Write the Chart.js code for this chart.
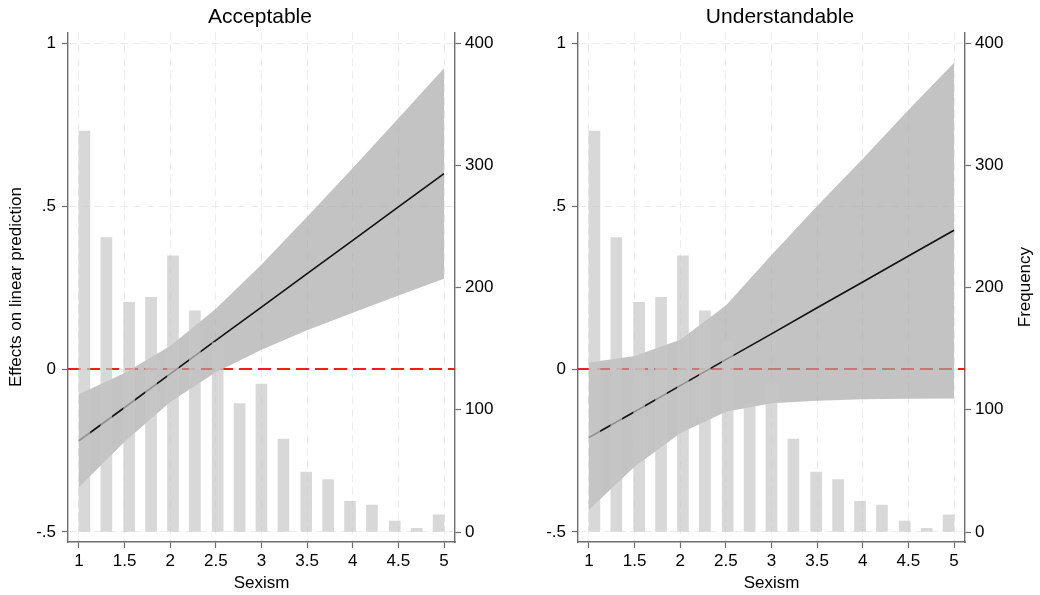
<!DOCTYPE html>
<html>
<head>
<meta charset="utf-8">
<script src="https://cdn.jsdelivr.net/npm/chart.js@4.4.1/dist/chart.umd.min.js"></script>
<style>
  html, body { margin: 0; padding: 0; background: #fff; }
  .row { display: flex; width: 1040px; height: 595px; }
</style>
</head>
<body>
<div class="row">
  <canvas id="acceptable" width="520" height="595"></canvas>
  <canvas id="understandable" width="520" height="595"></canvas>
</div>
<script>
// margins evaluated at these Sexism values
const sexismAt = [1, 1.5, 2, 2.5, 3, 3.5, 4, 4.5, 5];

// Acceptable: effect on linear prediction with 95% CI
const accFit   = [-0.22, -0.118, -0.015, 0.088, 0.19, 0.293, 0.395, 0.498, 0.60];
const accUpper = [-0.077, -0.012, 0.071, 0.185, 0.321, 0.467, 0.617, 0.770, 0.923];
const accLower = [-0.363, -0.223, -0.101, -0.010, 0.059, 0.119, 0.173, 0.226, 0.277];

// Understandable: effect on linear prediction with 95% CI
const undFit   = [-0.21, -0.131, -0.051, 0.029, 0.108, 0.188, 0.267, 0.347, 0.426];
const undUpper = [0.02, 0.04, 0.09, 0.195, 0.35, 0.50, 0.645, 0.795, 0.94];
const undLower = [-0.432, -0.300, -0.197, -0.131, -0.105, -0.097, -0.093, -0.091, -0.090];

// histogram of Sexism, same sample in both panels
const binCenters = [1.06, 1.30, 1.55, 1.79, 2.03, 2.27, 2.52, 2.76, 3.00, 3.24, 3.49, 3.73, 3.97, 4.21, 4.46, 4.70, 4.94];
const frequency  = [328, 241, 188, 192, 226, 181, 155, 105, 121, 76, 49, 43, 25, 22, 9, 3, 14];

const xTicks = [1, 1.5, 2, 2.5, 3, 3.5, 4, 4.5, 5];
const effectTicks = [-0.5, 0, 0.5, 1];
const freqTicks = [0, 100, 200, 300, 400];

const X_MIN = 0.88, X_MAX = 5.12;

Chart.defaults.font.family = '"Liberation Sans", Arial, Helvetica, sans-serif';
Chart.defaults.font.size = 17;
Chart.defaults.color = '#000';

const AXIS = '#6e6e6e';
const GRID = '#ececec';

const pts = (xs, ys) => xs.map((x, i) => ({ x: x, y: ys[i] }));
const fixTicks = list => scale => { scale.ticks = list.map(v => ({ value: v })); };
// stata-style labels: .5, -.5
const stataNum = v => String(v).replace('0.', '.');

function makePanel(id, title, fit, upper, lower, side) {
  const plugins = [];
  if (side.freqTitle) {
    plugins.push({
      id: 'freqTitle',
      afterDraw(chart) {
        const { ctx, chartArea } = chart;
        const s = chart.scales.freq;
        ctx.save();
        ctx.translate(s.right - 15, (chartArea.top + chartArea.bottom) / 2);
        ctx.rotate(-Math.PI / 2);
        ctx.font = '17px "Liberation Sans", Arial, sans-serif';
        ctx.fillStyle = '#000';
        ctx.textAlign = 'center';
        ctx.textBaseline = 'middle';
        ctx.fillText('Frequency', 0, 0);
        ctx.restore();
      }
    });
  }

  return new Chart(document.getElementById(id), {
    type: 'line',
    data: {
      datasets: [
        {
          type: 'bar',
          data: pts(binCenters, frequency),
          yAxisID: 'freq',
          backgroundColor: 'rgba(200,200,200,0.7)',
          borderWidth: 0,
          barThickness: 11,
          order: 0
        },
        {
          data: pts(sexismAt, fit),
          yAxisID: 'y',
          borderColor: '#111',
          borderWidth: 1.6,
          pointRadius: 0,
          tension: 0,
          order: 1
        },
        {
          data: pts(sexismAt, upper),
          yAxisID: 'y',
          borderWidth: 0,
          pointRadius: 0,
          tension: 0,
          fill: '+1',
          backgroundColor: 'rgba(166,166,166,0.68)',
          order: 2
        },
        {
          data: pts(sexismAt, lower),
          yAxisID: 'y',
          borderWidth: 0,
          pointRadius: 0,
          tension: 0,
          order: 3
        },
        {
          // reference line at zero
          data: [{ x: X_MIN, y: 0 }, { x: X_MAX, y: 0 }],
          yAxisID: 'y',
          borderColor: '#ff1a1a',
          borderWidth: 2,
          borderDash: [13, 6],
          pointRadius: 0,
          order: 4
        }
      ]
    },
    options: {
      responsive: false,
      animation: false,
      layout: { padding: 0 },
      plugins: {
        legend: { display: false },
        tooltip: { enabled: false },
        title: {
          display: true,
          text: title,
          font: { size: 21, weight: 'normal' },
          color: '#000',
          padding: { top: 5, bottom: 2 }
        }
      },
      scales: {
        x: {
          type: 'linear',
          min: X_MIN,
          max: X_MAX,
          offset: false,
          afterBuildTicks: fixTicks(xTicks),
          afterFit: s => { s.height = 53; },
          ticks: { padding: 3, maxRotation: 0, callback: v => String(v) },
          grid: { color: GRID, offset: false, tickColor: AXIS, tickLength: 6, tickWidth: 1.2 },
          border: { color: AXIS, width: 1.4, dash: [8, 5] },
          title: { display: true, text: 'Sexism', padding: { top: 0, bottom: 1 } }
        },
        y: {
          type: 'linear',
          position: 'left',
          min: -0.5307,
          max: 1.0337,
          afterBuildTicks: fixTicks(effectTicks),
          afterFit: s => { s.width = side.yWidth; },
          ticks: { padding: 6, callback: stataNum },
          grid: { color: GRID, tickColor: AXIS, tickLength: 6, tickWidth: 1.2 },
          border: { color: AXIS, width: 1.4, dash: [8, 5] },
          title: {
            display: side.yTitle,
            text: 'Effects on linear prediction',
            padding: { top: 6, bottom: 0 }
          }
        },
        freq: {
          type: 'linear',
          position: 'right',
          min: -8.18,
          max: 409,
          afterBuildTicks: fixTicks(freqTicks),
          afterFit: s => { s.width = side.freqWidth; },
          ticks: { padding: 4 },
          grid: { drawOnChartArea: false, tickColor: AXIS, tickLength: 6, tickWidth: 1.2 },
          border: { color: AXIS, width: 1.4 }
        }
      }
    },
    plugins: plugins
  });
}

makePanel('acceptable', 'Acceptable', accFit, accUpper, accLower,
  { yWidth: 68, freqWidth: 65, yTitle: true, freqTitle: false });
makePanel('understandable', 'Understandable', undFit, undUpper, undLower,
  { yWidth: 58, freqWidth: 75, yTitle: false, freqTitle: true });
</script>
</body>
</html>
